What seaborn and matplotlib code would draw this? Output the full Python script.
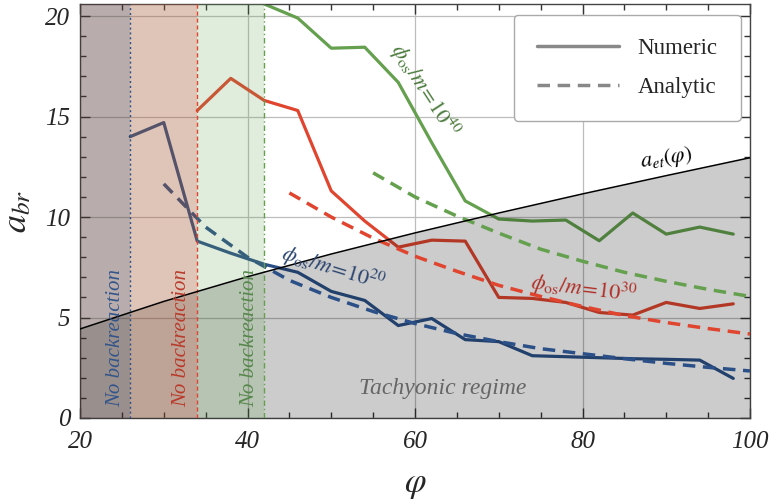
import numpy as np
import pandas as pd
import matplotlib
matplotlib.use("Agg")
import matplotlib.pyplot as plt
from matplotlib.ticker import MultipleLocator
from matplotlib.font_manager import FontProperties
import seaborn as sns

# ---- numeric runs (sampled every 4 in phi) ----
phi_num_20 = [26, 30, 34, 38, 42, 46, 50, 54, 58, 62, 66, 70, 74, 78, 82, 86, 90, 94, 98]
abr_num_20 = [14.0, 14.7, 8.8, 8.2, 7.65, 7.25, 6.3, 5.85, 4.6, 4.95, 3.9, 3.8, 3.1, 3.05, 3.0, 2.95, 2.92, 2.88, 1.97]

phi_num_30 = [34, 38, 42, 46, 50, 54, 58, 62, 66, 70, 74, 78, 82, 86, 90, 94, 98]
abr_num_30 = [15.3, 16.9, 15.8, 15.3, 11.3, 9.8, 8.5, 8.85, 8.8, 6.0, 5.95, 5.75, 5.25, 5.12, 5.75, 5.45, 5.68]

phi_num_40 = [42, 46, 50, 54, 58, 62, 66, 70, 74, 78, 82, 86, 90, 94, 98]
abr_num_40 = [20.6, 19.9, 18.4, 18.45, 16.7, 13.7, 10.8, 9.9, 9.8, 9.85, 8.82, 10.2, 9.15, 9.5, 9.15]

# ---- analytic estimates ----
phi_an_20 = [30, 35, 40, 45, 50, 55, 60, 65, 70, 75, 80, 85, 90, 95, 100]
abr_an_20 = [11.65, 9.5, 8.0, 6.85, 6.0, 5.3, 4.7, 4.2, 3.8, 3.45, 3.2, 2.95, 2.72, 2.52, 2.34]

phi_an_30 = [45, 50, 55, 60, 65, 70, 75, 80, 85, 90, 95, 100]
abr_an_30 = [11.2, 10.0, 8.95, 8.05, 7.3, 6.6, 6.05, 5.55, 5.1, 4.75, 4.45, 4.18]

phi_an_40 = [55, 60, 65, 70, 75, 80, 85, 90, 95, 100]
abr_an_40 = [12.2, 11.0, 10.05, 9.2, 8.4, 7.8, 7.25, 6.8, 6.4, 6.05]

# ---- end of tachyonic regime a_et(phi) ----
phi_et = [20, 30, 40, 50, 60, 70, 80, 90, 100]
a_et = [4.43, 5.8, 7.03, 8.16, 9.21, 10.2, 11.15, 12.06, 12.95]

# ---- no-backreaction bands ----
band_edges = [20, 26, 34, 42]
band_labels = ["No backreaction", "No backreaction", "No backreaction"]

# ---- tick labels ----
x_ticks = [20, 40, 60, 80, 100]
x_ticklabels = ["20", "40", "60", "80", "100"]
y_ticks = [0, 5, 10, 15, 20]
y_ticklabels = ["0", "5", "10", "15", "20"]

c_blue = "#2b5088"
c_red = "#e0452f"
c_green = "#64a04e"

sns.set_theme(style="ticks")
plt.rcParams["font.family"] = ["Liberation Serif", "DejaVu Serif"]
plt.rcParams["mathtext.fontset"] = "stix"

tick_fp = FontProperties(family="Liberation Serif", style="italic", size=18)

fig = plt.figure(figsize=(7.72, 5.04), dpi=100)
ax = fig.add_axes([80 / 772, 86 / 504, 670 / 772, 414 / 504])

# grid at major ticks
ax.grid(True, which="major", color="#bdbdbd", lw=0.9, zorder=0.5)
ax.set_axisbelow(True)

# numeric runs
for x, y, c in [(phi_num_20, abr_num_20, c_blue),
                (phi_num_30, abr_num_30, c_red),
                (phi_num_40, abr_num_40, c_green)]:
    sns.lineplot(x=x, y=y, ax=ax, color=c, lw=2.3, estimator=None, sort=False,
                 zorder=2, legend=False)

# tachyonic region below a_et
ax.fill_between(phi_et, 0, a_et, color="black", alpha=0.2, lw=0, zorder=3)

# analytic curves
for x, y, c in [(phi_an_20, abr_an_20, c_blue),
                (phi_an_30, abr_an_30, c_red),
                (phi_an_40, abr_an_40, c_green)]:
    ln = sns.lineplot(x=x, y=y, ax=ax, color=c, lw=2.5, estimator=None, sort=False,
                      zorder=4, legend=False)
    ln.lines[-1].set_dashes((3.6, 2.2))

# no-backreaction bands
band_fc = [("#4e3430", 0.40), ("#a65934", 0.35), ("#64a050", 0.20)]
for (x0, x1), (fc, al) in zip(zip(band_edges[:-1], band_edges[1:]), band_fc):
    ax.axvspan(x0, x1, color=fc, alpha=al, lw=0, zorder=5)
ax.axvline(26, color=c_blue, lw=1.0, ls=(0, (1.5, 2.0)), zorder=6)
ax.axvline(34, color=c_red, lw=1.0, ls=(0, (3, 2)), zorder=6)
ax.axvline(42, color=c_green, lw=1.0, ls=(0, (4, 2, 1, 2)), zorder=6)

# a_et boundary
sns.lineplot(x=phi_et, y=a_et, ax=ax, color="black", lw=1.1, estimator=None,
             zorder=7, legend=False)

# band labels
txt_cols = ["#33558a", "#b83a2a", "#55884a"]
for xc, lab, col in zip([24.2, 32.1, 40.2], band_labels, txt_cols):
    ax.text(xc, 4.0, lab, rotation=90, ha="center", va="center", color=col,
            fontsize=15, fontstyle="italic", zorder=8)

# curve labels
ax.text(61.2, 16.3, r"$\phi_{\rm os}/m\!=\!10^{40}$", rotation=-57, color="#4a7a3c",
        fontsize=16, ha="center", va="center", zorder=8)
ax.text(50.2, 7.45, r"$\phi_{\rm os}/m\!=\!10^{20}$", rotation=-17, color="#2b4570",
        fontsize=16, ha="center", va="center", zorder=8)
ax.text(80.1, 6.4, r"$\phi_{\rm os}/m\!=\!10^{30}$", rotation=-7, color="#b03028",
        fontsize=16, ha="center", va="center", zorder=8)
ax.text(90.0, 12.9, r"$a_{et}(\varphi)$", rotation=8, color="black",
        fontsize=16, ha="center", va="center", zorder=8)
ax.text(63.3, 1.45, "Tachyonic regime", color="#666666", fontsize=17,
        fontstyle="italic", ha="center", va="center", zorder=8)

# ticks and spines (italic numerals)
ax.set_xticks(x_ticks)
ax.set_xticklabels(x_ticklabels, fontproperties=tick_fp)
ax.set_yticks(y_ticks)
ax.set_yticklabels(y_ticklabels, fontproperties=tick_fp)
ax.xaxis.set_minor_locator(MultipleLocator(5))
ax.yaxis.set_minor_locator(MultipleLocator(1))
ax.set_xlim(20, 100)
ax.set_ylim(0, 20.6)
ax.tick_params(which="both", direction="in", top=True, right=True, color="#333333",
               width=1.0)
ax.tick_params(which="major", length=7)
ax.tick_params(which="minor", length=4)
ax.tick_params(axis="x", which="major", pad=9)
ax.tick_params(axis="y", which="major", pad=7)
for sp in ax.spines.values():
    sp.set_color("#444444")
    sp.set_linewidth(1.0)

ax.set_xlabel(r"$\varphi$", fontsize=25, labelpad=11)
ax.set_ylabel(r"$a_{br}$", fontsize=26, labelpad=8)

# legend
h_num, = ax.plot([], [], color="#888888", lw=2.5, label="Numeric")
h_an, = ax.plot([], [], color="#888888", lw=2.5, dashes=(3.6, 2.2), label="Analytic")
leg = ax.legend(handles=[h_num, h_an], loc="upper right", bbox_to_anchor=(1.003, 1.002),
                fontsize=16.5, frameon=True, fancybox=True, handlelength=3.6,
                handletextpad=0.8, labelspacing=0.8, borderpad=1.0)
leg.get_frame().set_edgecolor("#aaaaaa")
leg.get_frame().set_linewidth(1.0)
leg.get_frame().set_alpha(1.0)
leg.set_zorder(10)

fig.savefig("out.png", dpi=100)
